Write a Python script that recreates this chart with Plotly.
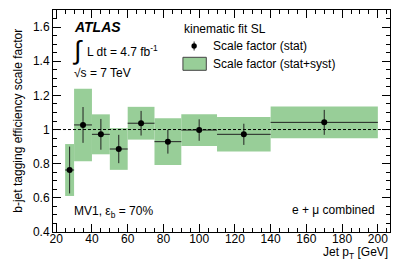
import plotly.graph_objects as go

# ---- data ----
pt_low = [25, 30, 40, 50, 60, 75, 90, 110, 140]
pt_high = [30, 40, 50, 60, 75, 90, 110, 140, 200]
scale_factor = [0.763, 1.027, 0.972, 0.886, 1.037, 0.929, 0.997, 0.972, 1.042]
stat_err = [0.137, 0.105, 0.090, 0.083, 0.072, 0.070, 0.063, 0.062, 0.073]
total_err = [0.152, 0.212, 0.117, 0.122, 0.096, 0.137, 0.093, 0.101, 0.093]
x_ticks = [20, 40, 60, 80, 100, 120, 140, 160, 180, 200]
y_ticks = [0.4, 0.6, 0.8, 1.0, 1.2, 1.4, 1.6]

W, H = 407, 261
L, R, T, B = 53.3, 390.5, 10, 232
FONT = "Liberation Sans, Arial, Helvetica, sans-serif"
GREEN = "rgb(152,206,152)"

def px(x):
    return (x - L) / (R - L)

def py(y):
    return (B - y) / (B - T)

centers = [(a + b) / 2 for a, b in zip(pt_low, pt_high)]
widths = [b - a for a, b in zip(pt_low, pt_high)]
half = [w / 2 for w in widths]

fig = go.Figure()
fig.add_trace(go.Bar(
    x=centers, width=widths,
    base=[s - t for s, t in zip(scale_factor, total_err)],
    y=[2 * t for t in total_err],
    marker=dict(color=GREEN, line=dict(width=0)),
    showlegend=False, hoverinfo="skip"))
fig.add_trace(go.Scatter(
    x=centers, y=scale_factor, mode="markers",
    marker=dict(color="black", size=6),
    error_x=dict(type="data", array=half, color="#222", thickness=1, width=0),
    error_y=dict(type="data", array=stat_err, color="#222", thickness=1, width=0),
    showlegend=False))

shapes = [
    dict(type="line", xref="paper", yref="y", x0=0, x1=1, y0=1, y1=1,
         line=dict(color="black", width=1, dash="3px,2px")),
    # legend box
    dict(type="rect", xref="paper", yref="paper", x0=px(183.3), x1=px(206.7),
         y0=py(70.3), y1=py(57.3), fillcolor=GREEN, line=dict(color="#444", width=1)),
    # legend marker line
    dict(type="line", xref="paper", yref="paper", x0=px(194.5), x1=px(194.5),
         y0=py(50.5), y1=py(41.5), line=dict(color="#222", width=1)),
    dict(type="circle", xref="paper", yref="paper", xsizemode="pixel", ysizemode="pixel",
         xanchor=px(194.5), yanchor=py(46), x0=-2.7, x1=2.7, y0=-2.7, y1=2.7,
         fillcolor="black", line=dict(color="black", width=0)),
]

def ann(text, x, y, size=12, xanchor="left", angle=0):
    return dict(text=text, xref="paper", yref="paper", x=px(x), y=py(y),
                xanchor=xanchor, yanchor="middle", showarrow=False, textangle=angle,
                font=dict(family=FONT, size=size, color="black"))

annotations = [
    ann("<b><i>ATLAS</i></b>", 72, 26.7, size=14),
    ann("∫", 70.5, 50, size=26),
    ann("L dt = 4.7 fb<sup>-1</sup>", 85, 51.5),
    ann("√s = 7 TeV", 72.5, 73.3),
    ann("kinematic fit SL", 182, 29.3),
    ann("Scale factor (stat)", 211, 46),
    ann("Scale factor (stat+syst)", 211, 64),
    ann("MV1, ε<sub>b</sub> = 70%", 72, 211.5),
    ann("e + μ combined", 377.5, 210, xanchor="right"),
    ann("Jet p<sub>T</sub> [GeV]", 391, 252.5, xanchor="right"),
    ann("b-jet tagging efficiency scale factor", 18, 121, xanchor="center", angle=-90),
]

axis_common = dict(showline=True, linecolor="black", linewidth=1, mirror="allticks",
                   ticks="inside", ticklen=8, tickcolor="black", tickwidth=1,
                   showgrid=False, zeroline=False,
                   tickfont=dict(family=FONT, size=12, color="black"))

fig.update_layout(
    width=W, height=H,
    margin=dict(l=L, r=W - R, t=T, b=H - B, pad=0),
    paper_bgcolor="white", plot_bgcolor="white",
    shapes=shapes, annotations=annotations, showlegend=False,
    xaxis=dict(range=[18.2, 206.8], tickvals=x_ticks, ticktext=[str(v) for v in x_ticks],
               minor=dict(ticks="inside", ticklen=4, dtick=5, tick0=0, tickcolor="black"),
               ticklabelstandoff=-4, **axis_common),
    yaxis=dict(range=[0.4, 1.7], tickvals=y_ticks, ticktext=["0.4", "0.6", "0.8", "1", "1.2", "1.4", "1.6"],
               minor=dict(ticks="inside", ticklen=4, dtick=0.05, tick0=0, tickcolor="black"),
               **axis_common),
)

fig.write_html("out.html", config={"displayModeBar": False},
               post_script="document.body.style.margin='0px';")
